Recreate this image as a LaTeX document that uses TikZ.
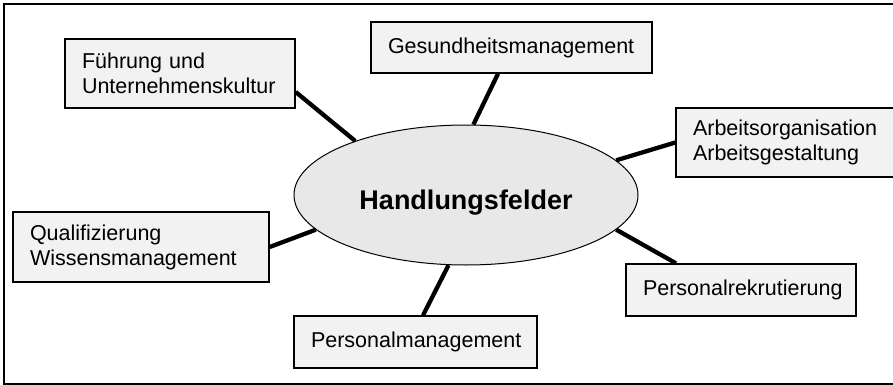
\documentclass[tikz,border=0pt]{standalone}
\usepackage{fontspec}
\setmainfont{Liberation Sans}
\usetikzlibrary{shapes.geometric}
\definecolor{boxgray}{HTML}{F2F2F2}
\definecolor{ovalgray}{HTML}{E8E8E8}

\tikzset{
  feld/.style={draw=black, line width=1.4pt, fill=boxgray, rectangle,
    inner xsep=17pt, inner ysep=0pt, align=left,
    font=\fontsize{21.5}{25}\selectfont},
  link/.style={line width=4.3pt}
}

\begin{document}
\begin{tikzpicture}[x=1pt, y=-1pt]
  \clip (0,0) rectangle (893,385);
  \draw[line width=2pt] (4,4) rectangle (900,384);

  % center
  \node[ellipse, draw=black, line width=1pt, fill=ovalgray,
        minimum width=344pt, minimum height=140pt,
        label={[yshift=-8pt, font=\fontsize{27}{32}\bfseries]center:Handlungsfelder}]
        (hf) at (466,195) {};

  % fields
  \node[feld, text width=196pt, minimum height=69pt] (fk) at (180,73.5)
    {Führung und\\Unternehmenskultur};
  \node[feld, text width=247pt, minimum height=51pt] (gm) at (511.5,47.5)
    {Gesundheitsmanagement};
  \node[feld, text width=186pt, minimum height=69pt] (ao) at (786,142.5)
    {Arbeitsorganisation\\Arbeitsgestaltung};
  \node[feld, text width=222pt, minimum height=70pt] (qw) at (141,247)
    {Qualifizierung\\Wissensmanagement};
  \node[feld, text width=209pt, minimum height=52pt] (pm) at (415.5,342)
    {Personalmanagement};
  \node[feld, text width=196pt, minimum height=52pt] (pr) at (741,290)
    {Personalrekrutierung};

  % links
  \draw[link] ([yshift=-18.5pt]fk.east) -- (hf.154);
  \draw[link] ([xshift=-13.5pt]gm.south) -- (hf.84);
  \draw[link] (ao.west) -- (hf.13);
  \draw[link] (qw.east) -- (hf.193);
  \draw[link] ([xshift=7.5pt]pm.north) -- (hf.256);
  \draw[link] ([xshift=-65pt]pr.north) -- (hf.347);
\end{tikzpicture}
\end{document}
